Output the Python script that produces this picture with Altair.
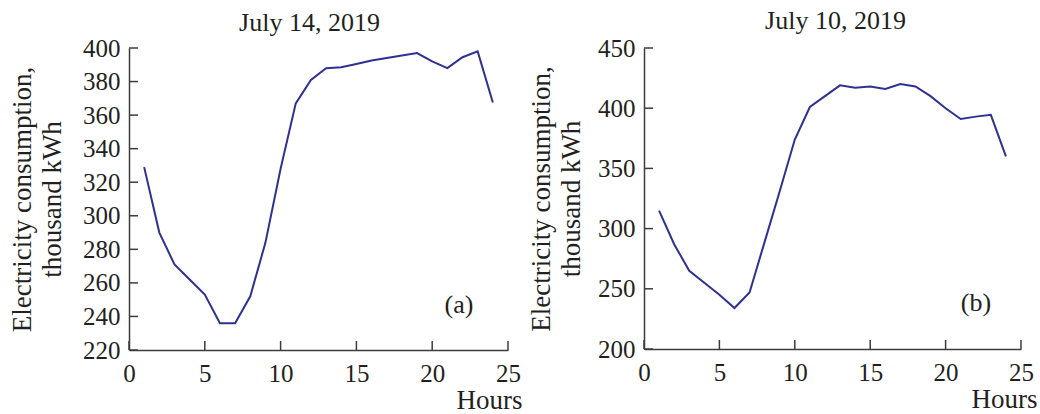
import altair as alt
import pandas as pd

# Hourly electricity consumption, thousand kWh
hours = list(range(1, 25))
jul14 = [329, 290, 271, 262, 253, 236, 236, 252, 284, 328, 367, 381,
         388, 388.5, 390.5, 392.5, 394, 395.5, 397, 392, 388, 394.5, 398, 367.5]
jul10 = [315, 287, 265, 255, 245, 234, 247, 289, 331, 374, 401, 410,
         419, 417, 418, 416, 420, 418, 410, 400, 391, 393, 394.5, 360]

hour_ticks = [0, 5, 10, 15, 20, 25]
ticks_a = list(range(220, 401, 20))
ticks_b = list(range(200, 451, 50))

FONT = "Liberation Serif"
INK = "#231f20"
LINE = "#2e3192"
AXIS = "#3c3c3c"
TICK = 9


def panel(values, title, yticks, tag, w, h, title_offset, title_dx, title_pad,
          hours_dx, tag_x, tag_y):
    df = pd.DataFrame({"hour": hours, "kwh": values})
    x = alt.X(
        "hour:Q",
        scale=alt.Scale(domain=[0, 25], nice=False, zero=False),
        axis=alt.Axis(
            values=hour_ticks, ticks=False, grid=False, labelFlush=False,
            domainColor=AXIS, domainWidth=1.5,
            labelFont=FONT, labelFontSize=25, labelColor=INK, labelPadding=11,
            title="Hours", titleFont=FONT, titleFontSize=27,
            titleFontWeight="normal", titleColor=INK,
            titleX=w + hours_dx, titleY=58, titleAlign="right",
            titleBaseline="alphabetic",
        ),
    )
    y = alt.Y(
        "kwh:Q",
        scale=alt.Scale(domain=[yticks[0], yticks[-1]], nice=False, zero=False),
        axis=alt.Axis(
            values=yticks, ticks=False, grid=False,
            domainColor=AXIS, domainWidth=1.5,
            labelFont=FONT, labelFontSize=25, labelColor=INK, labelPadding=9,
            title=["Electricity consumption,", "thousand kWh"],
            titleFont=FONT, titleFontSize=27, titleFontWeight="normal",
            titleColor=INK, titleLineHeight=30, titlePadding=title_pad,
        ),
    )
    line = alt.Chart(df).mark_line(color=LINE, strokeWidth=2).encode(x=x, y=y)
    # inward tick marks on both axes
    xt = alt.Chart(pd.DataFrame({"hour": hour_ticks})).mark_rule(
        color=AXIS, strokeWidth=1.5
    ).encode(x=x, y=alt.value(h), y2=alt.value(h - TICK))
    yt = alt.Chart(pd.DataFrame({"kwh": yticks})).mark_rule(
        color=AXIS, strokeWidth=1.5
    ).encode(y=y, x=alt.value(0), x2=alt.value(TICK))
    label = alt.Chart(pd.DataFrame({"t": [tag]})).mark_text(
        font=FONT, fontSize=26, color=INK
    ).encode(text="t:N", x=alt.value(tag_x), y=alt.value(tag_y))
    return alt.layer(line, xt, yt, label).properties(
        width=w, height=h,
        title=alt.TitleParams(
            title, font=FONT, fontSize=26, fontWeight="normal", color=INK,
            offset=title_offset, dx=title_dx, frame="group",
        ),
    )


left = panel(jul14, "July 14, 2019", ticks_a, "(a)", 379, 302, 0, -9, 16, 14, 330, 257)
right = panel(jul10, "July 10, 2019", ticks_b, "(b)", 377, 301, 2, 3, 12, 16, 332, 255)

chart = alt.hconcat(left, right, spacing=5).properties(
    padding={"left": 8, "top": 8, "right": 0, "bottom": 0}
).configure_view(stroke=None)

chart.save("out.html", embed_options={"renderer": "svg", "actions": False})
